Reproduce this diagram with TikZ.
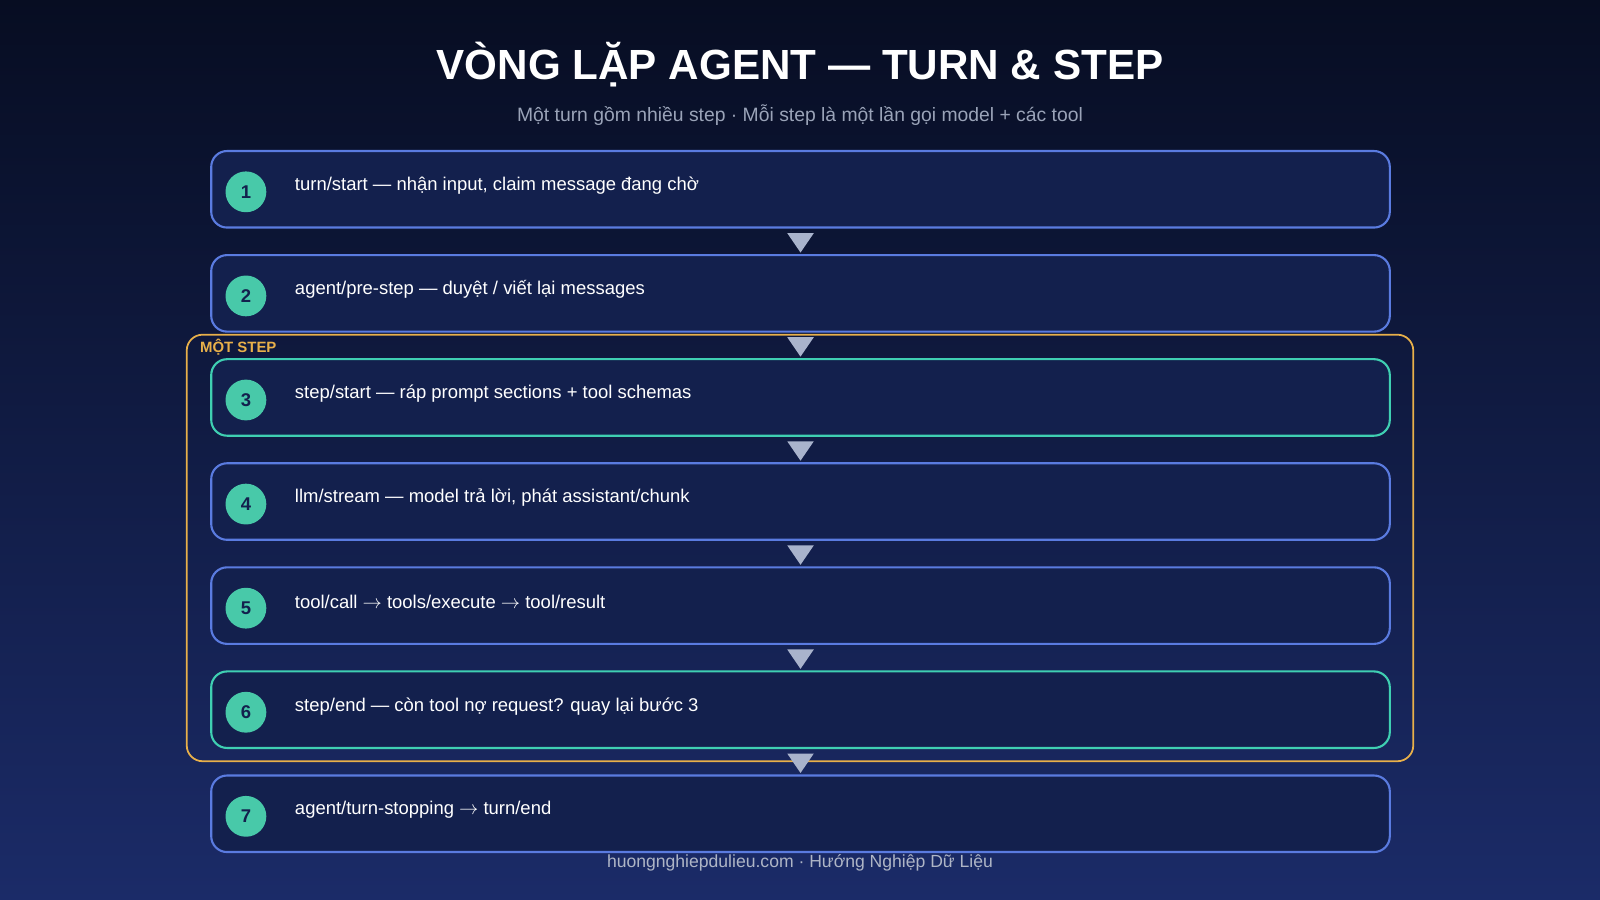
\documentclass[tikz,border=0pt]{standalone}
\usepackage{fontspec}
\setmainfont{Liberation Sans}
\usetikzlibrary{positioning,calc}
\definecolor{bgtop}{HTML}{070D22}
\definecolor{bgbot}{HTML}{1B2B68}
\definecolor{boxfill}{HTML}{13204D}
\definecolor{boxblue}{HTML}{5A7BE0}
\definecolor{boxteal}{HTML}{3FCFB2}
\definecolor{dotteal}{HTML}{48C9A9}
\definecolor{stepgold}{HTML}{E8B04A}
\definecolor{subgray}{HTML}{9AA3B8}
\definecolor{arrowgray}{HTML}{A9B3CC}
\tikzset{
  stepbox/.style={draw=boxblue,line width=1.2pt,fill=boxfill,rounded corners=9pt,minimum width=1155*0.0204cm,minimum height=75*0.0204cm},
  stepnum/.style={circle,fill=dotteal,minimum size=40*0.0204cm,inner sep=0pt,font=\bfseries\fontsize{10.5}{12}\selectfont,text=boxfill},
  steptext/.style={anchor=west,text=white,font=\fontsize{10.5}{12}\selectfont},
}
\begin{document}
\begin{tikzpicture}[x=0.0204cm,y=-0.0204cm]

% nền
\shade[top color=bgtop,bottom color=bgbot] (0,0) rectangle (1568,882);
\useasboundingbox (0,0) rectangle (1568,882);

% tiêu đề
\node[text=white,font=\bfseries\fontsize{24}{28}\selectfont] (title) at (784,63) {VÒNG LẶP AGENT — TURN \& STEP};
\node[text=subgray,font=\fontsize{11}{13}\selectfont] (subtitle) at (784,113) {Một turn gồm nhiều step · Mỗi step là một lần gọi model + các tool};

% khung một step
\draw[stepgold,line width=1pt,rounded corners=9pt] (183,328) rectangle (1385,746);
\node[anchor=west,text=stepgold,font=\bfseries\fontsize{8.5}{10}\selectfont] (steplabel) at (190,340) {MỘT STEP};

% các bước
\foreach \i/\txt/\col in {
  1/{turn/start — nhận input, claim message đang chờ}/boxblue,
  2/{agent/pre-step — duyệt / viết lại messages}/boxblue,
  3/{step/start — ráp prompt sections + tool schemas}/boxteal,
  4/{llm/stream — model trả lời, phát assistant/chunk}/boxblue,
  5/{tool/call $\rightarrow$ tools/execute $\rightarrow$ tool/result}/boxblue,
  6/{step/end — còn tool nợ request? quay lại bước 3}/boxteal,
  7/{agent/turn-stopping $\rightarrow$ turn/end}/boxblue}{
  \node[stepbox,draw=\col] (box\i) at (784.5,{185.5+102*(\i-1)}) {};
  \node[stepnum] (num\i) at (241,{188+102*(\i-1)}) {\i};
  \node[steptext] (text\i) at (283,{182+102*(\i-1)}) {\txt};
}

% mũi tên tam giác
\foreach \i [evaluate=\i as \j using int(\i+1)] in {1,...,6}{
  \coordinate (mid\i) at ($(box\i.south)!0.5!(box\j.north)$);
  \fill[arrowgray] ($(mid\i)+(-13,-8)$) -- ($(mid\i)+(13,-8)$) -- ($(mid\i)+(0,11)$) -- cycle;
}

% chân trang
\node[text=subgray!80,font=\fontsize{10}{12}\selectfont] (footer) at (784,846) {huongnghiepdulieu.com · Hướng Nghiệp Dữ Liệu};

\end{tikzpicture}
\end{document}
